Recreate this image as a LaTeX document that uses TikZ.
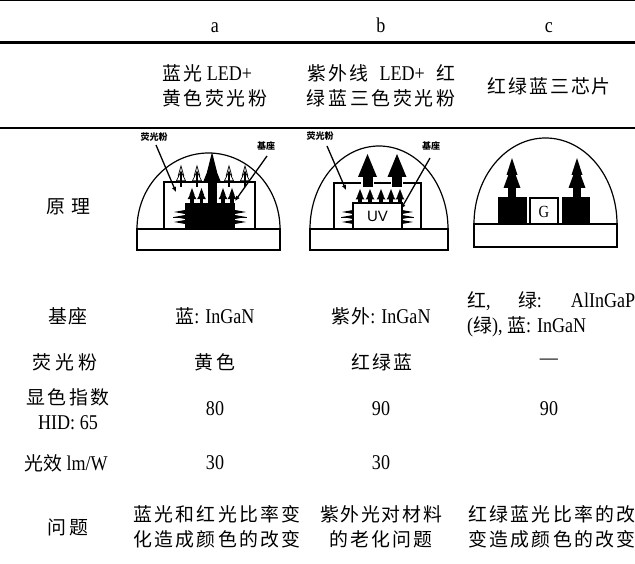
\documentclass[tikz,border=0pt]{standalone}
\usepackage{fontspec}
\setmainfont{Liberation Serif}[FakeStretch=0.86]
\newfontfamily\zhf{Noto Sans CJK SC}[Scale=0.9]
\newfontfamily\zhn{Noto Sans CJK SC}
\newfontfamily\uvfont{Liberation Sans}
\usetikzlibrary{arrows.meta}
\newcommand\Z[2][12]{{\zhf\addfontfeature{LetterSpace=#1}#2}}
\newcommand\smalltree[4]{%
  \begin{scope}[shift={(#1,#2)}, xscale=#4, yscale=#3]
    \fill (0,0) -- (0.6,0.5) -- (-0.6,0.5) -- cycle;
    \fill (0,0.22) -- (1,0.75) -- (-1,0.75) -- cycle;
    \fill (-0.35,0.6) rectangle (0.35,1);
  \end{scope}}
\newcommand\outtree[4]{%
  \begin{scope}[shift={(#1,#2)}, xscale=#4, yscale=#3]
    \filldraw[fill=white, line width=0.7pt] (0,0) -- (0.6,0.45) -- (-0.6,0.45) -- cycle;
    \filldraw[fill=white, line width=0.7pt] (0,0.25) -- (1,0.7) -- (-1,0.7) -- cycle;
    \fill (-0.3,0.3) rectangle (0.3,1);
  \end{scope}}
\newcommand\spikes[3]{% x edge, direction (+1/-1), y centre
  \foreach \dy in {-5,0,5}{
    \fill (#1,#3+\dy-2) -- (#1+#2*11,#3+\dy) -- (#1,#3+\dy+2) -- cycle;}
  \draw[line width=0.8pt] (#1,#3) -- (#1+#2*12,#3);}
\begin{document}
\begin{tikzpicture}[x=1pt,y=-1pt,
  tx/.style={inner sep=0pt, font=\fontsize{21}{25}\selectfont, align=center},
  lbl/.style={inner sep=0pt, font=\fontsize{9}{9}\selectfont\zhn\bfseries},
  ln/.style={line width=1.2pt},
  ptr/.style={line width=1.3pt, -{Latex[length=5pt,width=4.5pt]}}]
\useasboundingbox (0,0) rectangle (635,564);
\fill[white] (0,0) rectangle (635,564);

% table rules
\draw[line width=1pt] (0,0.8) -- (635,0.8);
\draw[line width=2.2pt] (0,42.5) -- (635,42.5);
\draw[line width=2.2pt] (0,128) -- (635,128);

% header
\node[tx, anchor=base] (ha) at (215,33) {a};
\node[tx, anchor=base] (hb) at (381,33) {b};
\node[tx, anchor=base] (hc) at (549,33) {c};

% row 2
\node[tx, anchor=west, align=left] (t2a) at (162,86) {\Z{蓝光} LED+\\\Z[14]{黄色荧光粉}};
\node[tx] (t2b) at (381,86) {\makebox[148pt][s]{\Z{紫外线} LED+ \Z{红}}\\\Z[14]{绿蓝三色荧光粉}};
\node[tx] (t2c) at (549,86) {\Z[11]{红绿蓝三芯片}};

% left labels
\node[tx] (l1) at (68,207) {\Z[32]{原理}};
\node[tx] (l2) at (68,316) {\Z[10]{基座}};
\node[tx] (l3) at (65,362) {\Z[20]{荧光粉}};
\node[tx] (l4) at (68,409) {\Z[13]{显色指数}\\HID: 65};
\node[tx] (l5) at (66,463) {\Z[0]{光效} lm/W};
\node[tx] (l6) at (68,527) {\Z[16]{问题}};

% row 基座
\node[tx] (a2) at (215,316) {\Z{蓝}: InGaN};
\node[tx] (b2) at (381,316) {\Z[6]{紫外}: InGaN};
\node[tx, anchor=west, align=left] (c2) at (467,314.5) {\makebox[168pt][s]{\Z{红}, \hfill\Z{绿}: \hfill AlInGaP}\\(\Z[0]{绿}), \Z{蓝}: InGaN};

% row 荧光粉
\node[tx] (a3) at (215,362) {\Z[16]{黄色}};
\node[tx] (b3) at (382,362) {\Z[11]{红绿蓝}};
\node[tx] (c3) at (549,362) {—};

% row 显色指数
\node[tx] (a4) at (215,409) {80};
\node[tx] (b4) at (381,409) {90};
\node[tx] (c4) at (549,409) {90};

% row 光效
\node[tx] (a5) at (215,463) {30};
\node[tx] (b5) at (381,463) {30};

% row 问题
\node[tx] (a6) at (217,527) {\Z{蓝光和红光比率变}\\\Z{化造成颜色的改变}};
\node[tx] (b6) at (381,527) {\Z[9]{紫外光对材料}\\\Z[11]{的老化问题}};
\node[tx] (c6) at (552,527) {\Z{红绿蓝光比率的改}\\\Z{变造成颜色的改变}};

% ---------- panel a ----------
\draw[ln] (137,229) arc[start angle=180,end angle=360,x radius=71.5,y radius=76];
\draw[ln] (137,229) rectangle (280,250);
\draw[ln] (164,182) rectangle (255,229);
\foreach \tx in {181,197,229,245} {\outtree{\tx}{166}{21}{4.5}}
\fill (185,203) rectangle (235,229);
\fill (212,152) -- (217,172) -- (207,172) -- cycle;
\fill (212,160) -- (220.5,181) -- (203.5,181) -- cycle;
\fill (207.5,178) rectangle (216.5,204);
\foreach \tx in {192,201.5,223,232} {\smalltree{\tx}{188}{15}{4.5}}
\spikes{185}{-1}{217}
\spikes{235}{1}{217}
\node[lbl] (pa1) at (154,137.5) {荧光粉};
\node[lbl] (pa2) at (266,146) {基座};
\coordinate (pa1e) at (176,192);
\coordinate (pa2e) at (235,201);
\draw[ptr] (156,145) -- (pa1e);
\draw[ptr] (267,156) -- (pa2e);

% ---------- panel b ----------
\draw[ln] (310,229) arc[start angle=180,end angle=360,x radius=69,y radius=83];
\draw[ln] (310,229) rectangle (448,250);
\draw[ln] (334,229) -- (334,183) -- (361,183);
\draw[ln] (374,183) -- (391,183);
\draw[ln] (403,183) -- (421,183) -- (421,229);
\foreach \cx in {367.5,397} {
  \fill (\cx,154) -- (\cx+9.5,177) -- (\cx-9.5,177) -- cycle;
  \fill (\cx-5,176) rectangle (\cx+5,187);}
\draw[ln] (353,229) -- (353,203) -- (402,203) -- (402,229);
\node[inner sep=0pt, font=\fontsize{15}{15}\selectfont\uvfont] (uv) at (377.5,216.5) {UV};
\foreach \tx in {360,370,381,391,400} {\smalltree{\tx}{189}{14}{4.5}}
\spikes{353}{-1}{217}
\spikes{402}{1}{217}
\node[lbl] (pb1) at (320,136) {荧光粉};
\node[lbl] (pb2) at (431,146) {基座};
\coordinate (pb1e) at (346,190);
\coordinate (pb2e) at (401,209);
\draw[ptr] (327,146) -- (pb1e);
\draw[ptr] (430,158) -- (pb2e);

% ---------- panel c ----------
\draw[ln] (474,224) arc[start angle=180,end angle=360,x radius=71.5,y radius=86];
\draw[ln] (474,224) rectangle (617,247);
\fill (498,197) rectangle (527,224);
\fill (562,197) rectangle (590,224);
\draw[ln] (530,224) -- (530,198) -- (558,198) -- (558,224);
\node[inner sep=0pt, font=\fontsize{17}{17}\selectfont] (g) at (544,211.5) {G};
\foreach \cx in {512,577} {
  \fill (\cx,158) -- (\cx+5.5,175) -- (\cx-5.5,175) -- cycle;
  \fill (\cx,165) -- (\cx+8.5,188) -- (\cx-8.5,188) -- cycle;
  \fill (\cx-4,185) rectangle (\cx+4,197.5);}
\end{tikzpicture}
\end{document}
